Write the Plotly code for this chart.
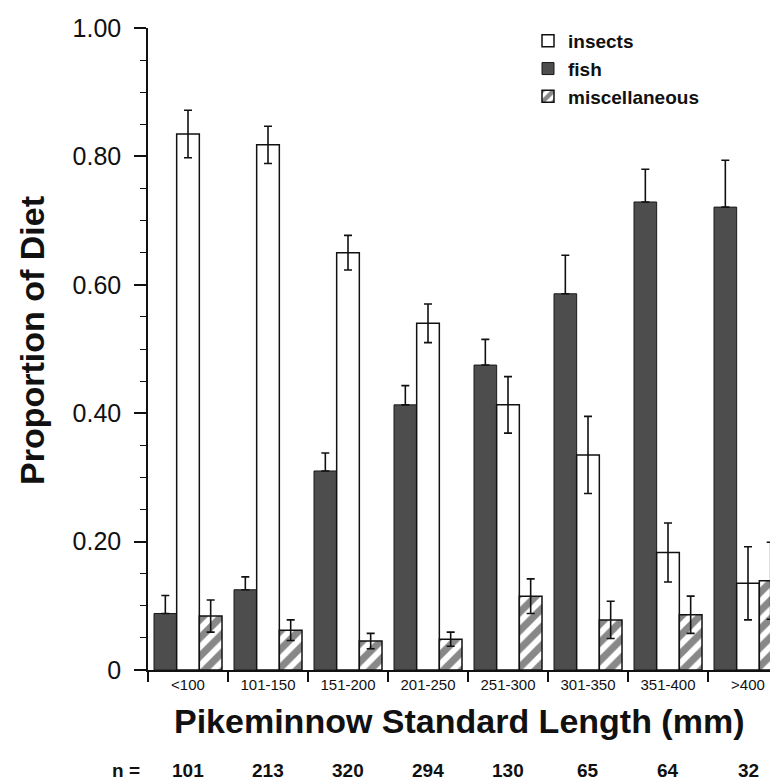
import plotly.graph_objects as go

categories = ["<100", "101-150", "151-200", "201-250", "251-300", "301-350", "351-400", ">400"]
fish = [0.088, 0.125, 0.310, 0.413, 0.475, 0.586, 0.729, 0.721]
fish_err = [0.028, 0.020, 0.028, 0.030, 0.040, 0.060, 0.051, 0.073]
insects = [0.835, 0.818, 0.650, 0.540, 0.413, 0.335, 0.183, 0.135]
insects_err = [0.037, 0.029, 0.027, 0.030, 0.044, 0.060, 0.046, 0.057]
misc = [0.084, 0.062, 0.045, 0.048, 0.115, 0.078, 0.086, 0.139]
misc_err = [0.025, 0.016, 0.012, 0.011, 0.027, 0.029, 0.029, 0.060]
n_values = [101, 213, 320, 294, 130, 65, 64, 32]
y_tickvals = [0, 0.2, 0.4, 0.6, 0.8, 1.0]
y_ticktext = ["0", "0.20", "0.40", "0.60", "0.80", "1.00"]

W, H = 778, 784
L, R, T, B = 140, 0, 20, 122
pw, ph = W - L - R, H - T - B

def px_x(x):
    return (x - L) / pw

def px_y(y):
    return (H - B - y) / ph

FONT = "Liberation Sans, Arial, sans-serif"
INK = "#111111"

fig = go.Figure()
fig.add_trace(go.Bar(
    name="<b>fish</b>", x=categories, y=fish, legendrank=2,
    marker=dict(color="#4d4d4d", line=dict(color="#1a1a1a", width=1)),
    error_y=dict(type="data", symmetric=False, array=fish_err, arrayminus=[0] * len(fish_err),
                 visible=True, color="#111111", thickness=1.6, width=4),
))
fig.add_trace(go.Bar(
    name="<b>insects</b>", x=categories, y=insects, legendrank=1,
    marker=dict(color="white", line=dict(color="#111111", width=1.5)),
    error_y=dict(type="data", array=insects_err, visible=True, color="#111111", thickness=1.6, width=4),
))
fig.add_trace(go.Bar(
    name="<b>miscellaneous</b>", x=categories, y=misc, legendrank=3,
    marker=dict(color="white", line=dict(color="#111111", width=1.5),
                pattern=dict(shape="/", fgcolor="#111111", bgcolor="white", size=13, solidity=0.55)),
    error_y=dict(type="data", array=misc_err, visible=True, color="#111111", thickness=1.6, width=4),
))

annotations = [
    dict(text="<b>Pikeminnow Standard Length (mm)</b>", xref="paper", yref="paper",
         x=px_x(451), y=px_y(713), xanchor="center", yanchor="middle", showarrow=False,
         font=dict(family=FONT, size=34, color=INK)),
    dict(text="<b>Proportion of Diet</b>", xref="paper", yref="paper", textangle=-90,
         x=px_x(24), y=px_y(333), xanchor="center", yanchor="middle", showarrow=False,
         font=dict(family=FONT, size=34, color=INK)),
    dict(text="<b>n =</b>", xref="paper", yref="paper", x=px_x(134), y=px_y(762),
         xanchor="right", yanchor="middle", showarrow=False,
         font=dict(family=FONT, size=19, color=INK)),
]
for c, n in zip(categories, n_values):
    annotations.append(dict(text=f"<b>{n}</b>", xref="x", yref="paper", x=c, y=px_y(762),
                            xanchor="center", yanchor="middle", showarrow=False,
                            font=dict(family=FONT, size=19, color=INK)))

fig.update_layout(
    width=W, height=H,
    margin=dict(l=L, r=R, t=T, b=B, pad=0),
    paper_bgcolor="white", plot_bgcolor="white",
    barmode="group", bargap=0.15, bargroupgap=0,
    font=dict(family=FONT, color=INK),
    legend=dict(x=px_x(520), y=px_y(14), xanchor="left", yanchor="top",
                font=dict(family=FONT, size=19, color=INK), bgcolor="rgba(0,0,0,0)",
                traceorder="normal"),
    annotations=annotations,
)
fig.update_xaxes(
    range=[-0.5, -0.5 + pw / 80], showline=True, linecolor="#111111", linewidth=1.5,
    ticks="outside", tickson="boundaries", ticklen=10, tickwidth=1.5, tickcolor="#111111",
    tickfont=dict(family=FONT, size=15, color=INK), showgrid=False, zeroline=False,
    fixedrange=True,
)
fig.update_yaxes(
    range=[0, 1.0], showline=True, linecolor="#111111", linewidth=1.5,
    tickvals=y_tickvals, ticktext=y_ticktext, ticks="outside", ticklen=12, tickwidth=1.5,
    tickcolor="#111111", tickfont=dict(family=FONT, size=25, color=INK),
    minor=dict(dtick=0.05, ticks="outside", ticklen=6, tickwidth=1.2, tickcolor="#111111", showgrid=False),
    showgrid=False, zeroline=False, ticklabelstandoff=8,
)

fig.write_html("out.html")
